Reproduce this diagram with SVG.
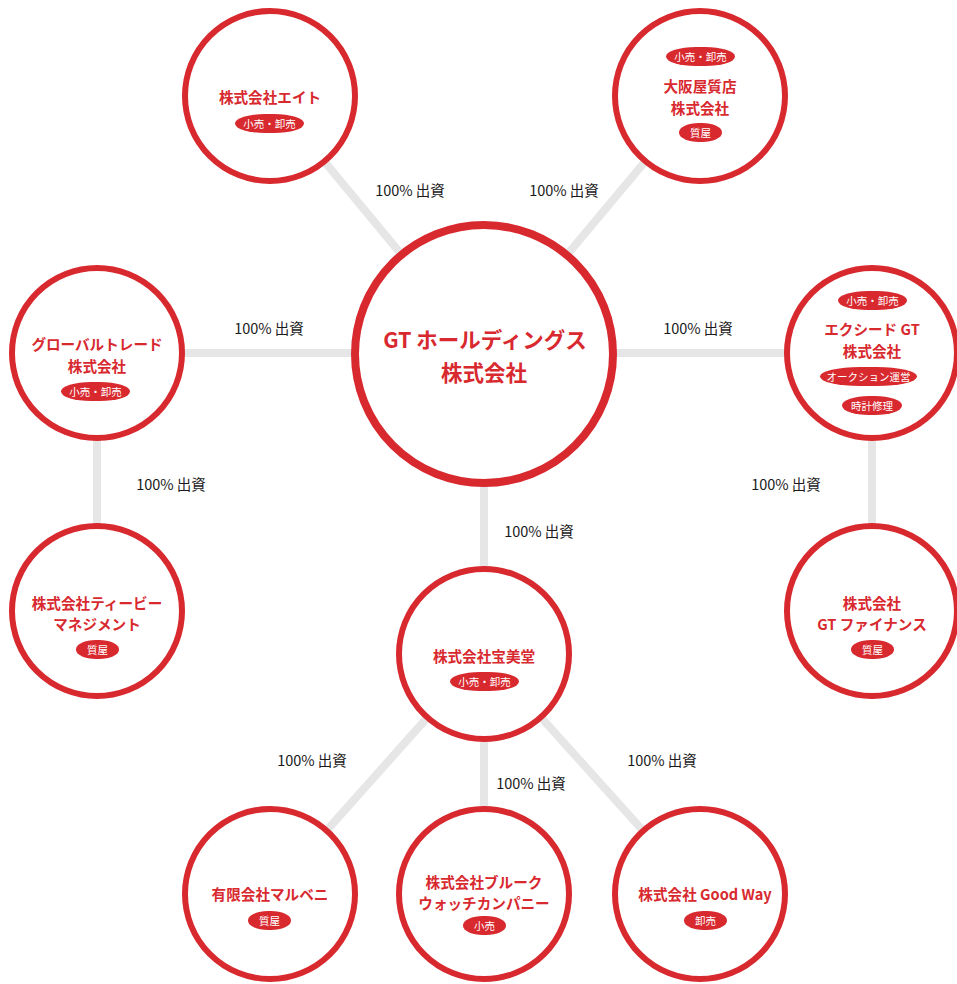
<svg xmlns="http://www.w3.org/2000/svg" width="957" height="984" viewBox="0 0 957 984">
<style>
.c{fill:#fff;stroke:#d8292f;stroke-width:6}
.cm{fill:#fff;stroke:#d8292f;stroke-width:8}
.t{font-family:"Noto Sans CJK JP","Noto Sans",sans-serif;font-weight:700;font-size:14.6px;fill:#d8292f;text-anchor:middle;dominant-baseline:central}
.tm{font-family:"Noto Sans CJK JP","Noto Sans",sans-serif;font-weight:700;font-size:21.5px;fill:#d8292f;text-anchor:middle;dominant-baseline:central}
.b{fill:#d8292f}
.bt{font-family:"Noto Sans CJK JP","Noto Sans",sans-serif;font-size:10.5px;fill:#fff;text-anchor:middle;dominant-baseline:central}
.l{font-family:"Noto Sans CJK JP","Noto Sans",sans-serif;font-size:14.5px;fill:#1a1a1a;text-anchor:middle;dominant-baseline:central}
.ln{stroke:#e6e6e6;stroke-width:8;fill:none}
</style>
<rect width="957" height="984" fill="#fff"/>
<g id="connectors">
<line class="ln" x1="270" y1="96" x2="484" y2="354"/>
<line class="ln" x1="700" y1="96" x2="484" y2="354"/>
<line class="ln" x1="97" y1="353" x2="872" y2="353"/>
<line class="ln" x1="97" y1="353" x2="97" y2="611"/>
<line class="ln" x1="872" y1="353" x2="872" y2="611"/>
<line class="ln" x1="484" y1="354" x2="484" y2="894"/>
<line class="ln" x1="484" y1="654" x2="270" y2="894"/>
<line class="ln" x1="484" y1="654" x2="700" y2="894"/>
<text class="l" x="410" y="189">100% 出資</text>
<text class="l" x="564" y="189">100% 出資</text>
<text class="l" x="269" y="327">100% 出資</text>
<text class="l" x="698" y="327">100% 出資</text>
<text class="l" x="171" y="483">100% 出資</text>
<text class="l" x="786" y="483">100% 出資</text>
<text class="l" x="539" y="530">100% 出資</text>
<text class="l" x="312" y="759">100% 出資</text>
<text class="l" x="531" y="782">100% 出資</text>
<text class="l" x="662" y="759">100% 出資</text>
</g>
<g id="node-eight">
<circle class="c" cx="270" cy="96" r="85"/>
<text class="t" x="270" y="96">株式会社エイト</text>
<rect class="b" x="235" y="114" width="69" height="19" rx="30" ry="9.5"/>
<text class="bt" x="269.5" y="123.5">小売・卸売</text>
</g>
<g id="node-osakaya">
<circle class="c" cx="700" cy="96" r="85"/>
<rect class="b" x="666" y="47" width="69" height="19" rx="30" ry="9.5"/>
<text class="bt" x="700.5" y="56.5">小売・卸売</text>
<text class="t" x="700" y="85">大阪屋質店</text>
<text class="t" x="700" y="107">株式会社</text>
<rect class="b" x="679" y="123" width="43" height="19" rx="20" ry="9.5"/>
<text class="bt" x="700.5" y="132.5">質屋</text>
</g>
<g id="node-gt-holdings">
<circle class="cm" cx="484" cy="354" r="129"/>
<text class="tm" x="485" y="338">GT ホールディングス</text>
<text class="tm" x="484" y="371">株式会社</text>
</g>
<g id="node-global">
<circle class="c" cx="97" cy="353" r="85"/>
<text class="t" x="97" y="343">グローバルトレード</text>
<text class="t" x="97" y="365">株式会社</text>
<rect class="b" x="61" y="382" width="69" height="19" rx="30" ry="9.5"/>
<text class="bt" x="95.5" y="391.5">小売・卸売</text>
</g>
<g id="node-exceed">
<circle class="c" cx="872" cy="353" r="85"/>
<rect class="b" x="838" y="291" width="69" height="19" rx="30" ry="9.5"/>
<text class="bt" x="872.5" y="300.5">小売・卸売</text>
<text class="t" x="872" y="328">エクシード GT</text>
<text class="t" x="872" y="350">株式会社</text>
<rect class="b" x="820" y="367" width="97" height="19" rx="40" ry="9.5"/>
<text class="bt" x="868.5" y="376.5">オークション運営</text>
<rect class="b" x="842" y="396" width="60" height="19" rx="27" ry="9.5"/>
<text class="bt" x="872" y="405.5">時計修理</text>
</g>
<g id="node-tvb">
<circle class="c" cx="97" cy="611" r="85"/>
<text class="t" x="97" y="602">株式会社ティービー</text>
<text class="t" x="97" y="623">マネジメント</text>
<rect class="b" x="76" y="640" width="43" height="19" rx="20" ry="9.5"/>
<text class="bt" x="97.5" y="649.5">質屋</text>
</g>
<g id="node-gt-finance">
<circle class="c" cx="872" cy="611" r="85"/>
<text class="t" x="872" y="602">株式会社</text>
<text class="t" x="872" y="623">GT ファイナンス</text>
<rect class="b" x="851" y="640" width="43" height="19" rx="20" ry="9.5"/>
<text class="bt" x="872.5" y="649.5">質屋</text>
</g>
<g id="node-hobido">
<circle class="c" cx="484" cy="654" r="85"/>
<text class="t" x="484" y="655">株式会社宝美堂</text>
<rect class="b" x="450" y="672" width="69" height="19" rx="30" ry="9.5"/>
<text class="bt" x="484.5" y="681.5">小売・卸売</text>
</g>
<g id="node-marubeni">
<circle class="c" cx="270" cy="894" r="85"/>
<text class="t" x="270" y="893">有限会社マルベニ</text>
<rect class="b" x="248" y="911" width="43" height="19" rx="20" ry="9.5"/>
<text class="bt" x="269.5" y="920.5">質屋</text>
</g>
<g id="node-brook">
<circle class="c" cx="484" cy="894" r="85"/>
<text class="t" x="484" y="881">株式会社ブルーク</text>
<text class="t" x="484" y="902">ウォッチカンパニー</text>
<rect class="b" x="463" y="916" width="43" height="19" rx="20" ry="9.5"/>
<text class="bt" x="484.5" y="925.5">小売</text>
</g>
<g id="node-goodway">
<circle class="c" cx="700" cy="894" r="85"/>
<text class="t" x="705" y="893">株式会社 Good Way</text>
<rect class="b" x="684" y="911" width="43" height="19" rx="20" ry="9.5"/>
<text class="bt" x="705.5" y="920.5">卸売</text>
</g>
</svg>
